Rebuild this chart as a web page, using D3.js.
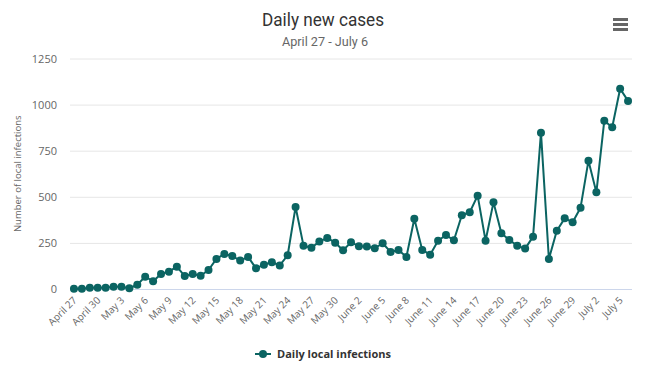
<!DOCTYPE html>
<html>
<head>
<meta charset="utf-8">
<script src="https://cdn.jsdelivr.net/npm/d3@7"></script>
<style>
  body { margin: 0; background: #fff; }
  svg { display: block; }
  text { font-family: "Open Sans", "DejaVu Sans", sans-serif; }
</style>
</head>
<body>
<svg id="chart"></svg>
<script>
// DATA //
const dates = [
  "April 27","April 28","April 29","April 30",
  "May 1","May 2","May 3","May 4","May 5","May 6","May 7","May 8","May 9","May 10",
  "May 11","May 12","May 13","May 14","May 15","May 16","May 17","May 18","May 19","May 20",
  "May 21","May 22","May 23","May 24","May 25","May 26","May 27","May 28","May 29","May 30","May 31",
  "June 1","June 2","June 3","June 4","June 5","June 6","June 7","June 8","June 9","June 10",
  "June 11","June 12","June 13","June 14","June 15","June 16","June 17","June 18","June 19","June 20",
  "June 21","June 22","June 23","June 24","June 25","June 26","June 27","June 28","June 29","June 30",
  "July 1","July 2","July 3","July 4","July 5","July 6"
]
const cases = [
  2, 2, 7, 7, 7, 12, 12, 4, 23, 67, 42, 81, 94, 121, 70, 81, 72, 103, 163, 190,
  179, 154, 174, 112, 132, 145, 128, 183, 445, 235, 224, 257, 277, 251, 210, 253,
  232, 230, 221, 248, 201, 212, 174, 381, 212, 186, 262, 293, 264, 400, 416, 506,
  262, 470, 302, 266, 235, 219, 284, 848, 163, 316, 383, 362, 441, 696, 524, 913,
  877, 1086, 1020
]
const yTicks = [0, 250, 500, 750, 1000, 1250]
const seriesName = "Daily local infections"
const color = "#0b6462"

// DRAW //
const W = 652, H = 374
const plotLeft = 70, plotRight = 632, plotTop = 58.5, plotBottom = 289

const svg = d3.select('#chart').attr('width', W).attr('height', H)

const x = d3.scalePoint().domain(dates).range([plotLeft, plotRight]).padding(0.5)
const y = d3.scaleLinear().domain([0, 1250]).range([plotBottom, plotTop])

// title
svg.append('text')
  .attr('x', 323).attr('y', 26)
  .attr('text-anchor', 'middle')
  .style('font-family', 'Roboto, sans-serif')
  .style('font-size', '18px').attr('fill', '#333')
  .attr('textLength', 122).attr('lengthAdjust', 'spacingAndGlyphs')
  .text('Daily new cases')

svg.append('text')
  .attr('x', 325).attr('y', 46)
  .attr('text-anchor', 'middle')
  .style('font-family', 'Roboto, sans-serif')
  .style('font-size', '12px').attr('fill', '#666')
  .attr('textLength', 86).attr('lengthAdjust', 'spacingAndGlyphs')
  .text('April 27 - July 6')

// menu icon
svg.append('g').selectAll('rect').data([0, 1, 2]).enter()
  .append('rect')
  .attr('x', 613).attr('y', d => 18 + d * 5)
  .attr('width', 15).attr('height', 3)
  .attr('fill', '#666')

// grid + y labels
const yAxis = svg.append('g')
  .attr('transform', `translate(${plotLeft},0)`)
  .call(d3.axisLeft(y).tickValues(yTicks).tickFormat(d3.format('d'))
    .tickSize(-(plotRight - plotLeft)).tickPadding(13))
yAxis.select('.domain').remove()
yAxis.selectAll('line').attr('stroke', d => d === 0 ? 'none' : '#e6e6e6')
yAxis.selectAll('text').attr('fill', '#666').style('font-size', '11px')
  .style('font-family', '"Open Sans", sans-serif')

svg.append('text')
  .attr('transform', `translate(21,${(plotTop + plotBottom) / 2}) rotate(-90)`)
  .attr('text-anchor', 'middle')
  .style('font-size', '9.5px').attr('fill', '#666')
  .text('Number of local infections')

// x axis
const xAxis = svg.append('g')
  .attr('transform', `translate(0,${plotBottom})`)
  .call(d3.axisBottom(x).tickValues(dates.filter((d, i) => i % 3 === 0)).tickSize(0))
xAxis.select('.domain').attr('stroke', '#ccd6eb').attr('d', `M${plotLeft},0.5H${plotRight}`)
xAxis.selectAll('text')
  .attr('fill', '#666').style('font-size', '10px')
  .attr('text-anchor', 'end')
  .attr('dy', null).attr('y', 0)
  .attr('transform', 'translate(3,12) rotate(-45)')

// line
svg.append('path')
  .datum(cases)
  .attr('fill', 'none')
  .attr('stroke', color)
  .attr('stroke-width', 2)
  .attr('stroke-linejoin', 'round')
  .attr('d', d3.line().x((d, i) => x(dates[i])).y(d => y(d)))

svg.append('g').selectAll('circle')
  .data(cases).enter()
  .append('circle')
  .attr('cx', (d, i) => x(dates[i]))
  .attr('cy', d => y(d))
  .attr('r', 4)
  .attr('fill', color)

// legend
const lg = svg.append('g').attr('transform', 'translate(255,354)')
lg.append('line').attr('x1', 0).attr('x2', 16).attr('stroke', color).attr('stroke-width', 2)
lg.append('circle').attr('cx', 8).attr('r', 4).attr('fill', color)
lg.append('text')
  .attr('x', 22).attr('y', 4)
  .style('font-size', '11px').style('font-weight', 'bold')
  .attr('fill', '#333')
  .text(seriesName)
</script>
</body>
</html>
